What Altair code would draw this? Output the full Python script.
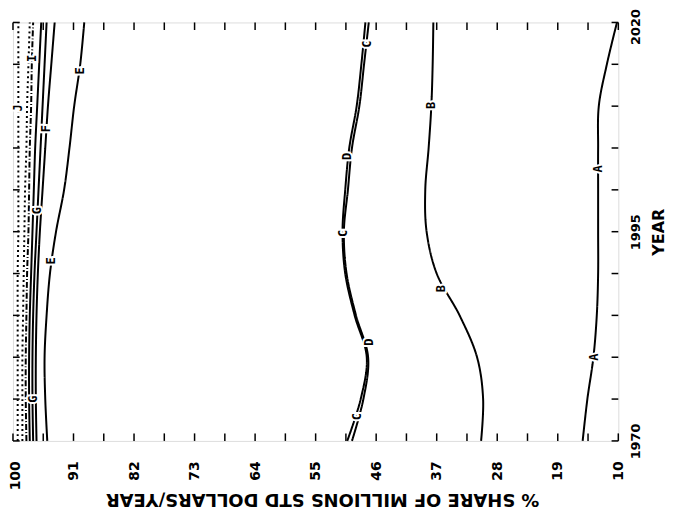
import altair as alt
import pandas as pd

# ---- data ----
years = [1970, 1975, 1980, 1985, 1990, 1995, 2000, 2005, 2010, 2015, 2020]
line_A = [15.3, 14.6, 13.7, 13.2, 13.0, 13.0, 13.0, 13.0, 12.9, 11.7, 10.2]
line_B = [30.4, 30.1, 31.0, 33.6, 37.0, 38.5, 38.7, 38.2, 37.8, 37.6, 37.5]
line_C = [49.6, 47.9, 47.2, 49.0, 50.4, 50.8, 50.2, 49.6, 48.5, 47.8, 47.1]
line_D = [50.3, 48.3, 47.4, 49.2, 50.6, 51.0, 50.6, 50.0, 48.9, 48.2, 47.6]
line_E = [94.9, 95.2, 95.3, 95.0, 94.5, 93.6, 92.4, 91.6, 90.9, 90.0, 89.4]
line_F = [96.5, 96.6, 96.6, 96.5, 96.3, 96.0, 95.6, 95.2, 94.8, 94.3, 93.8]
line_G = [97.0, 97.1, 97.1, 97.0, 96.8, 96.5, 96.2, 95.9, 95.6, 95.3, 95.0]
line_H = [97.5, 97.6, 97.6, 97.5, 97.3, 97.1, 96.9, 96.7, 96.4, 96.1, 95.8]
line_I = [98.0, 98.1, 98.1, 98.0, 97.9, 97.7, 97.6, 97.5, 97.3, 97.2, 97.0]
line_J = [98.6, 98.6, 98.6, 98.5, 98.4, 98.3, 98.2, 98.0, 97.9, 97.7, 97.5]
line_K = [99.3, 99.3, 99.3, 99.3, 99.3, 99.2, 99.2, 99.2, 99.2, 99.2, 99.2]

series_names = ["A", "B", "C", "D", "E", "F", "G", "H", "I", "J", "K"]
series_values = [line_A, line_B, line_C, line_D, line_E, line_F, line_G,
                 line_H, line_I, line_J, line_K]

# curve letter labels (letter, year, share)
label_letters = ["A", "A", "B", "B", "C", "D", "C", "D", "C", "E", "E",
                 "F", "G", "G", "I", "J"]
label_years = [1980.0, 2002.5, 1988.2, 2010.1, 2017.4, 2004.0, 1994.8, 1981.8,
               1972.9, 2014.2, 1991.5, 2007.3, 1997.5, 1975.0, 2015.7, 2009.8]
label_shares = [13.6, 13.0, 36.3, 37.8, 47.4, 50.3, 50.9, 47.0,
                48.9, 90.1, 94.3, 95.1, 96.4, 97.0, 97.2, 99.3]

share_labels = [100, 91, 82, 73, 64, 55, 46, 37, 28, 19, 10]
share_ticks = [100, 95.5, 91, 86.5, 82, 77.5, 73, 68.5, 64, 59.5, 55, 50.5,
               46, 41.5, 37, 32.5, 28, 23.5, 19, 14.5, 10]
year_labels = [1970, 1995, 2020]
year_ticks = [1970, 1975, 1980, 1985, 1990, 1995, 2000, 2005, 2010, 2015, 2020]

# ---- tables ----
rows = []
for name, vals in zip(series_names, series_values):
    for y, v in zip(years, vals):
        rows.append({"series": name, "year": y, "share": v})
df = pd.DataFrame(rows)

labels_df = pd.DataFrame({"letter": label_letters, "year": label_years,
                          "share": label_shares})

dash_range = [[1, 0], [1, 0], [1, 0], [1, 0], [1, 0], [1, 0], [1, 0],
              [1, 0], [6, 2, 1, 2], [2, 3], [2, 3]]
width_range = [2, 2, 1.5, 1.5, 2, 1.6, 1.4, 1.2, 1.4, 1.4, 1.4]

FONT = "DejaVu Sans"

x_scale = alt.Scale(domain=[10, 100], reverse=True, nice=False, zero=False)
y_scale = alt.Scale(domain=[1970, 2020], nice=False, zero=False)

x_axis = alt.Axis(
    values=share_labels, format="d", ticks=False, domain=False, grid=False,
    labelAngle=270, labelAlign="right", labelBaseline="middle",
    labelPadding=20, labelOverlap=False, labelFont=FONT, labelFontSize=14,
    labelOffset=alt.expr("datum.value == 100 ? 3 : 0"),
    labelFontWeight="bold", labelColor="black",
    title="% SHARE OF MILLIONS STD DOLLARS/YEAR", titleAngle=180,
    titleBaseline="bottom", titlePadding=0, titleFont=FONT,
    titleFontSize=18, titleFontWeight="bold", titleColor="black",
    titleX=311,
)
y_axis = alt.Axis(
    orient="right", values=year_labels, format="d", ticks=False,
    domain=False, grid=False, labelAngle=270, labelAlign="center",
    labelBaseline="top", labelPadding=11, labelOverlap=False,
    labelOffset=alt.expr("datum.value == 2020 ? 4 : 0"),
    labelFont=FONT, labelFontSize=13, labelFontWeight="bold",
    labelColor="black", title="YEAR", titleAngle=270, titleBaseline="top",
    titlePadding=8, titleFont=FONT, titleFontSize=16,
    titleFontWeight="bold", titleColor="black",
)


def X(field="share"):
    return alt.X(f"{field}:Q", scale=x_scale, axis=x_axis)


def Y(field="year"):
    return alt.Y(f"{field}:Q", scale=y_scale, axis=y_axis)


lines = alt.Chart(df).mark_line(
    color="black", interpolate="catmull-rom"
).encode(
    x=X(), y=Y(), order=alt.Order("year:Q"), detail="series:N",
    strokeDash=alt.StrokeDash("series:N", scale=alt.Scale(
        domain=series_names, range=dash_range), legend=None),
    strokeWidth=alt.StrokeWidth("series:N", scale=alt.Scale(
        domain=series_names, range=width_range), legend=None),
)

label_bg = alt.Chart(labels_df).mark_text(
    font="DejaVu Sans Mono", fontSize=12, fontWeight="bold", angle=270,
    color="white", stroke="white", strokeWidth=4, align="center",
    baseline="middle",
).encode(x=X(), y=Y(), text="letter:N")

label_fg = alt.Chart(labels_df).mark_text(
    font="DejaVu Sans Mono", fontSize=12, fontWeight="bold", angle=270,
    color="black", align="center", baseline="middle",
).encode(x=X(), y=Y(), text="letter:N")

# inward tick marks on all four sides
tb = pd.DataFrame({"share": share_ticks * 2,
                   "year": [1970] * 21 + [2020] * 21,
                   "year2": [1970.9] * 21 + [2019.1] * 21})
lr = pd.DataFrame({"year": year_ticks * 2,
                   "share": [100] * 11 + [10] * 11,
                   "share2": [99.0] * 11 + [11.0] * 11})

ticks_tb = alt.Chart(tb).mark_rule(color="black", strokeWidth=1.5).encode(
    x=X(), y=Y(), y2="year2:Q")
ticks_lr = alt.Chart(lr).mark_rule(color="black", strokeWidth=1.5).encode(
    x=X(), x2="share2:Q", y=Y())

chart = alt.layer(lines, ticks_tb, ticks_lr, label_bg, label_fg).properties(
    width=609, height=421,
    autosize=alt.AutoSizeParams(type="none"),
    padding={"left": 5, "top": 13, "right": 50, "bottom": 75},
).configure_view(stroke="black", strokeWidth=2).configure(background="white")

chart.save("out.html", embed_options={"renderer": "svg", "actions": False})
